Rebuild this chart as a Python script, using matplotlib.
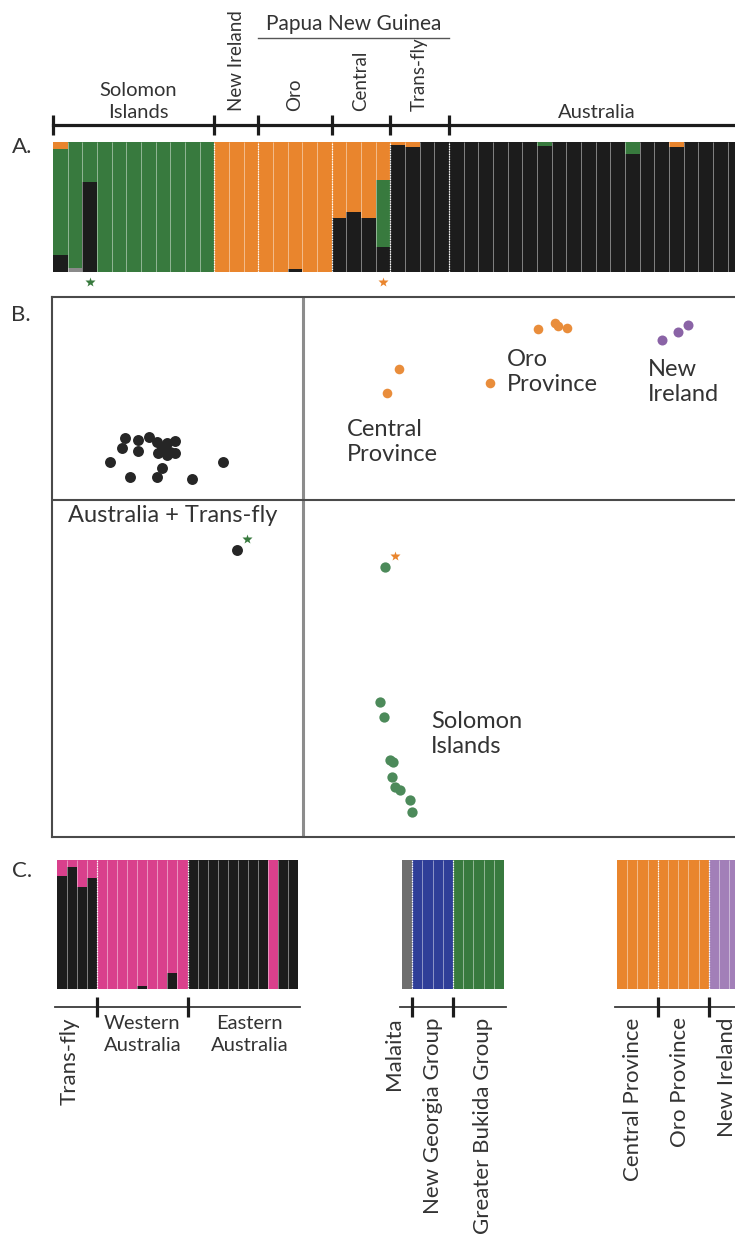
import numpy as np
import matplotlib.pyplot as plt
from matplotlib import transforms

plt.rcParams['font.family'] = ['Lato', 'DejaVu Sans']

# colours
BLACK = '#1c1c1c'
GREEN = '#387a3e'
ORANGE = '#e9852d'
GRAY = '#8a8a8a'
PINK = '#d9408c'
BLUE = '#2f3e98'
C_GRAY = '#6e6e6e'
PURPLE = '#a27fb8'
TXT = '#333333'

# ---- A. STRUCTURE bars, K = 3 ----
a_groups = ['Solomon\nIslands', 'New Ireland', 'Oro', 'Central', 'Trans-fly', 'Australia']
a_counts = [11, 3, 5, 4, 4, 20]
a_rotated = [False, True, True, True, True, False]
a_black = [0.13, 0, 0.69, 0, 0, 0, 0, 0, 0, 0, 0,
           0, 0, 0,
           0, 0, 0.02, 0, 0,
           0.415, 0.46, 0.415, 0.19,
           0.98, 0.965, 1, 1,
           1, 1, 1, 1, 1, 1, 0.97, 1, 1, 1, 1, 1, 0.91, 1, 1, 0.965, 1, 1, 1, 1]
a_gray = [0, 0.03, 0, 0, 0, 0, 0, 0, 0, 0, 0,
          0, 0, 0,
          0, 0, 0, 0, 0,
          0, 0, 0, 0,
          0, 0, 0, 0,
          0, 0, 0, 0, 0, 0, 0, 0, 0, 0, 0, 0, 0, 0, 0, 0, 0, 0, 0, 0]
a_green = [0.82, 0.97, 0.31, 1, 1, 1, 1, 1, 1, 1, 1,
           0, 0, 0,
           0, 0, 0, 0, 0,
           0, 0, 0, 0.52,
           0, 0, 0, 0,
           0, 0, 0, 0, 0, 0, 0.03, 0, 0, 0, 0, 0, 0.09, 0, 0, 0, 0, 0, 0, 0]
a_orange = [0.05, 0, 0, 0, 0, 0, 0, 0, 0, 0, 0,
            1, 1, 1,
            1, 1, 0.98, 1, 1,
            0.585, 0.54, 0.585, 0.29,
            0.02, 0.035, 0, 0,
            0, 0, 0, 0, 0, 0, 0, 0, 0, 0, 0, 0, 0, 0, 0, 0.035, 0, 0, 0, 0]
a_starred = [(2, GREEN), (22, ORANGE)]

# ---- B. DAPC scores ----
aus_x = [-3.56, -3.62, -3.30, -3.08, -2.92, -2.72, -2.56, -3.30, -2.90, -2.66,
         -2.56, -2.82, -3.86, -1.60, -3.46, -2.92, -2.82, -2.22, -2.72, -1.32]
aus_y = [1.24, 1.04, 1.20, 1.26, 1.16, 1.14, 1.18, 0.98, 0.94, 0.96,
         0.94, 1.06, 0.76, 0.76, 0.46, 0.46, 0.64, 0.42, 0.90, -1.00]
cen_x = [1.92, 1.68]
cen_y = [2.62, 2.14]
oro_x = [3.74, 4.70, 5.04, 5.10, 5.28]
oro_y = [2.34, 3.42, 3.54, 3.48, 3.44]
nir_x = [7.18, 7.50, 7.70]
nir_y = [3.20, 3.36, 3.50]
sol_x = [1.64, 1.54, 1.62, 1.74, 1.80, 1.78, 1.84, 1.94, 2.14, 2.18]
sol_y = [-1.34, -4.04, -4.34, -5.20, -5.24, -5.54, -5.74, -5.80, -6.00, -6.24]

# ---- C. separate STRUCTURE runs ----
c1_groups = ['Trans-fly', 'Western\nAustralia', 'Eastern\nAustralia']
c1_counts = [4, 9, 11]
c1_rotated = [True, False, False]
c1_black = [0.876, 0.946, 0.79, 0.86,
            0, 0, 0, 0, 0.025, 0, 0, 0.124, 0,
            1, 1, 1, 1, 1, 1, 1, 1, 0, 1, 1]
c1_pink = [0.124, 0.054, 0.21, 0.14,
           1, 1, 1, 1, 0.975, 1, 1, 0.876, 1,
           0, 0, 0, 0, 0, 0, 0, 0, 1, 0, 0]

c2_groups = ['Malaita', 'New Georgia Group', 'Greater Bukida Group']
c2_counts = [1, 4, 5]
c2_gray = [1, 0, 0, 0, 0, 0, 0, 0, 0, 0]
c2_blue = [0, 1, 1, 1, 1, 0, 0, 0, 0, 0]
c2_green = [0, 0, 0, 0, 0, 1, 1, 1, 1, 1]

c3_groups = ['Central Province', 'Oro Province', 'New Ireland']
c3_counts = [4, 5, 3]
c3_orange = [1, 1, 1, 1, 1, 1, 1, 1, 1, 0, 0, 0]
c3_purple = [0, 0, 0, 0, 0, 0, 0, 0, 0, 1, 1, 1]

W, H = 735, 1235
fig = plt.figure(figsize=(W / 100, H / 100), dpi=100)


def add_axes_px(x0, y0, x1, y1):
    return fig.add_axes([x0 / W, 1 - y1 / H, (x1 - x0) / W, (y1 - y0) / H])


def stacked(ax, layers, n, bounds):
    x = np.arange(n)
    bottom = np.zeros(n)
    for vals, col in layers:
        vals = np.asarray(vals, dtype=float)
        ax.bar(x, vals, bottom=bottom, width=1.0, align='edge', color=col, linewidth=0)
        bottom += vals
    ax.vlines(np.arange(1, n), 0, 1, colors=[(1, 1, 1, 0.45)], lw=0.7)
    ax.vlines(bounds, 0, 1, colors='white', linestyles=(0, (1, 1)), lw=0.9)
    ax.set_xlim(0, n)
    ax.set_ylim(0, 1)
    ax.axis('off')


# panel A
n_a = sum(a_counts)
edges_a = np.concatenate([[0], np.cumsum(a_counts)])
ax_a = add_axes_px(53, 142, 53 + n_a * 14.67, 272)
stacked(ax_a, [(a_black, BLACK), (a_gray, GRAY), (a_green, GREEN), (a_orange, ORANGE)],
        n_a, edges_a[1:-1])
tr = ax_a.get_xaxis_transform()
ax_a.plot([0, n_a], [1.13, 1.13], transform=tr, clip_on=False, color=BLACK, lw=2.3)
ax_a.vlines(edges_a[:-1], 1.055, 1.21, transform=tr, clip_on=False, colors=BLACK, lw=2.3)
vis_right = (735 - 53) / 14.67
for i, (name, rot) in enumerate(zip(a_groups, a_rotated)):
    cx = (edges_a[i] + min(edges_a[i + 1], vis_right)) / 2
    if rot:
        ax_a.text(cx, 1.235, name, transform=tr, rotation=90, ha='center', va='bottom',
                  fontsize=13.5, color=TXT)
    else:
        ax_a.text(cx + 0.3, 1.16, name, transform=tr, ha='center', va='bottom',
                  fontsize=14.5, color=TXT, linespacing=1.35)
# Papua New Guinea spans Oro to Trans-fly
png_l, png_r = edges_a[2], edges_a[5]
ax_a.plot([png_l, png_r], [1.8, 1.8], transform=tr, clip_on=False, color='#555555', lw=1)
ax_a.text((png_l + png_r) / 2, 1.83, 'Papua New Guinea', transform=tr, ha='center',
          va='bottom', fontsize=15, color=TXT)
for idx, col in a_starred:
    ax_a.plot(idx + 0.5, -0.078, marker='*', ms=7, color=col, mec='none',
              transform=tr, clip_on=False)

# panel B
ax_b = add_axes_px(52, 297, 752, 837)
ax_b.set_xlim((52 - 303) / 50, (752 - 303) / 50)
ax_b.set_ylim((500 - 837) / 50, (500 - 297) / 50)
ax_b.axvline(0, color='#8c8c8c', lw=2.2)
ax_b.axhline(0, color='#4a4a4a', lw=1.5)
for s in ax_b.spines.values():
    s.set_color('#4a4a4a')
    s.set_linewidth(1.5)
ax_b.set_xticks([])
ax_b.set_yticks([])
ax_b.scatter(aus_x, aus_y, s=62, color='#262626', lw=0, zorder=3)
ax_b.scatter(cen_x, cen_y, s=48, color='#e98d3b', lw=0, zorder=3)
ax_b.scatter(oro_x, oro_y, s=48, color='#e98d3b', lw=0, zorder=3)
ax_b.scatter(nir_x, nir_y, s=52, color='#8a63a6', lw=0, zorder=3)
ax_b.scatter(sol_x, sol_y, s=55, color='#4c8a5a', lw=0, zorder=3)
# admixed individuals flagged with a star in panel A
for px, py, col in [(aus_x[-1], aus_y[-1], GREEN), (sol_x[0], sol_y[0], ORANGE)]:
    off = transforms.offset_copy(ax_b.transData, fig=fig, x=7.5, y=8, units='points')
    ax_b.plot(px, py, marker='*', ms=7, color=col, mec='none', transform=off, zorder=4)
lab = dict(fontsize=17, color=TXT, va='center', ha='left', linespacing=1.25)
ax_b.text(0.88, 1.16, 'Central\nProvince', **lab)
ax_b.text(4.08, 2.56, 'Oro\nProvince', **lab)
ax_b.text(6.90, 2.36, 'New\nIreland', **lab)
ax_b.text(-4.70, -0.30, 'Australia + Trans-fly', **lab)
ax_b.text(2.56, -4.68, 'Solomon\nIslands', **lab)


# panel C
def c_block(x0, width_px, layers, counts, names, rotated, nudges, line_right=None):
    n = sum(counts)
    edges = np.concatenate([[0], np.cumsum(counts)])
    ax = add_axes_px(x0, 860, x0 + n * width_px, 989)
    stacked(ax, layers, n, edges[1:-1])
    t = ax.get_xaxis_transform()
    right = n + 0.2 if line_right is None else line_right
    ax.plot([-0.2, right], [-0.14, -0.14], transform=t, clip_on=False, color='#3a3a3a', lw=1.3)
    ax.vlines(edges[1:-1], -0.065, -0.215, transform=t, clip_on=False, colors=BLACK, lw=2.3)
    for i, (name, rot) in enumerate(zip(names, rotated)):
        cx = (edges[i] + edges[i + 1]) / 2 + nudges[i]
        if rot:
            ax.text(cx, -0.22, name, transform=t, rotation=90, ha='center', va='top',
                    fontsize=16, color=TXT)
        else:
            ax.text(cx, -0.2, name, transform=t, ha='center', va='top',
                    fontsize=14.5, color=TXT, linespacing=1.35)
    return ax


c_block(57, 10.04, [(c1_black, BLACK), (c1_pink, PINK)], c1_counts, c1_groups,
        c1_rotated, [-0.7, 0, 0.7])
c_block(402, 10.2, [(c2_gray, C_GRAY), (c2_blue, BLUE), (c2_green, GREEN)], c2_counts,
        c2_groups, [True, True, True], [-1.3, 0, 0.4])
c_block(617, 10.2, [(c3_orange, ORANGE), (c3_purple, PURPLE)], c3_counts, c3_groups,
        [True, True, True], [-0.4, -0.3, 0.3], line_right=14)

for letter, (px, py) in {'A.': (22, 147), 'B.': (21, 315), 'C.': (22, 871)}.items():
    fig.text(px / W, 1 - py / H, letter, ha='center', va='center', fontsize=16, color=TXT)

fig.savefig('out.png', dpi=100)
